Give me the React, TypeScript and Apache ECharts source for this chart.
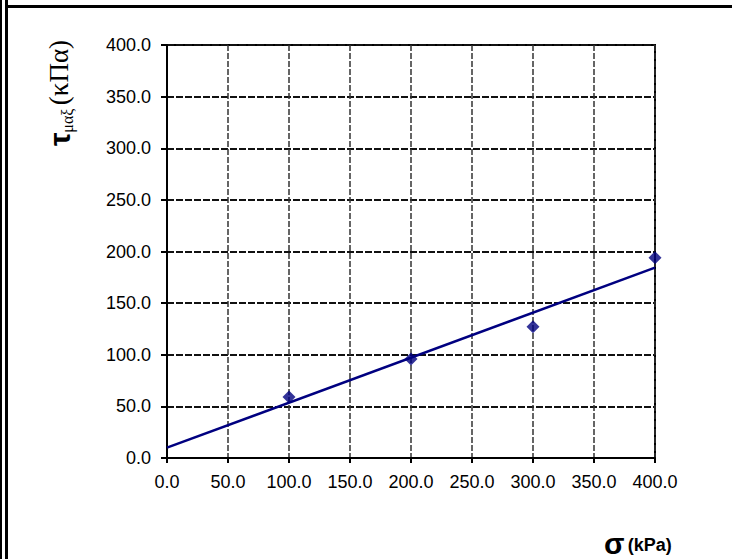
import React, { useEffect, useRef } from "react";
import * as echarts from "echarts";

const xTicks = [0, 50, 100, 150, 200, 250, 300, 350, 400];
const yTicks = [0, 50, 100, 150, 200, 250, 300, 350, 400];
const sigmaValues = [100, 200, 300, 400];
const tauValues = [59, 96, 127, 194];
const trendX = [0, 400];
const trendY = [10, 184.4];

export default function App() {
  const ref = useRef<HTMLDivElement>(null);
  useEffect(() => {
    if (!ref.current) return;
    const chart = echarts.init(ref.current, undefined, { renderer: "svg" });
    chart.setOption({
      animation: false,
      backgroundColor: "#fff",
      grid: {
        left: 167,
        top: 45,
        width: 488,
        height: 413,
        show: true,
        borderColor: "#000",
        borderWidth: 2,
      },
      xAxis: {
        type: "value",
        min: xTicks[0],
        max: xTicks[xTicks.length - 1],
        interval: 50,
        axisLine: { show: true, onZero: false, lineStyle: { color: "#000", width: 2 } },
        axisTick: { show: true, inside: false, length: 5, lineStyle: { color: "#000", width: 2 } },
        axisLabel: {
          margin: 15,
          color: "#000",
          fontFamily: "Liberation Sans, Arial, sans-serif",
          fontSize: 18,
          formatter: (v: number) => v.toFixed(1),
        },
        splitLine: { show: true, lineStyle: { color: "#333", width: 1.5, type: [6, 2] } },
      },
      yAxis: {
        type: "value",
        min: yTicks[0],
        max: yTicks[yTicks.length - 1],
        interval: 50,
        axisLine: { show: true, onZero: false, lineStyle: { color: "#000", width: 2 } },
        axisTick: { show: true, inside: false, length: 6, lineStyle: { color: "#000", width: 2 } },
        axisLabel: {
          margin: 16,
          color: "#000",
          fontFamily: "Liberation Sans, Arial, sans-serif",
          fontSize: 18,
          formatter: (v: number) => v.toFixed(1),
        },
        splitLine: { show: true, lineStyle: { color: "#111", width: 2, type: [7, 2] } },
      },
      series: [
        {
          type: "line",
          data: trendX.map((x, i) => [x, trendY[i]]),
          showSymbol: false,
          symbol: "none",
          lineStyle: { color: "#000080", width: 2.5 },
          z: 3,
        },
        {
          type: "scatter",
          data: sigmaValues.map((x, i) => [x, tauValues[i]]),
          symbol: "diamond",
          symbolSize: 13,
          itemStyle: { color: "#000080" },
          z: 4,
        },
      ],
      graphic: [
        { type: "line", shape: { x1: 1, y1: 0, x2: 1, y2: 559 }, style: { stroke: "#000", lineWidth: 2 } },
        { type: "line", shape: { x1: 6.5, y1: 0, x2: 6.5, y2: 559 }, style: { stroke: "#000", lineWidth: 3 } },
        { type: "line", shape: { x1: 5, y1: 6.5, x2: 732, y2: 6.5 }, style: { stroke: "#000", lineWidth: 3 } },
        {
          type: "text",
          x: 59,
          y: 93,
          rotation: Math.PI / 2,
          style: {
            text: "{t|τ}{s|μαξ} {p|(κΠα)}",
            align: "center",
            verticalAlign: "middle",
            fill: "#000",
            rich: {
              t: { fontFamily: "Liberation Sans, Arial, sans-serif", fontWeight: "bold", fontSize: 30, fill: "#000", lineHeight: 30 },
              s: { fontFamily: "Liberation Serif, Times New Roman, serif", fontSize: 16, fill: "#000", padding: [16, 0, 0, 0], lineHeight: 30 },
              p: { fontFamily: "Liberation Serif, Times New Roman, serif", fontSize: 27, fill: "#000", lineHeight: 30 },
            },
          },
        },
        {
          type: "text",
          x: 604,
          y: 543,
          style: {
            text: "{a|σ} {b|(kPa)}",
            align: "left",
            verticalAlign: "middle",
            fill: "#000",
            rich: {
              a: { fontFamily: "Liberation Sans, Arial, sans-serif", fontWeight: "bold", fontSize: 30, fill: "#000", lineHeight: 22 },
              b: { fontFamily: "Liberation Sans, Arial, sans-serif", fontWeight: "bold", fontSize: 18, fill: "#000", lineHeight: 22, padding: [4, 0, 0, 0] },
            },
          },
        },
      ],
    });
    return () => chart.dispose();
  }, []);
  return (
    <div
      ref={ref}
      style={{ position: "absolute", left: 0, top: 0, width: 732, height: 559 }}
    />
  );
}
